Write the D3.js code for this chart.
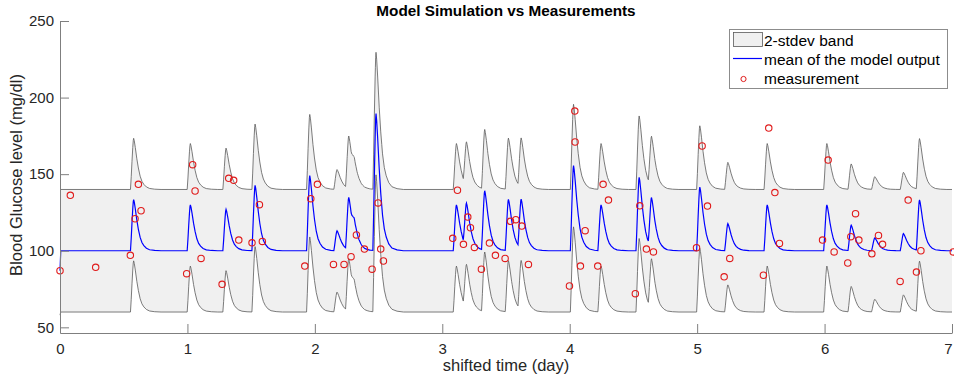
<!DOCTYPE html>
<html>
<head>
<meta charset="utf-8">
<script src="https://cdn.jsdelivr.net/npm/d3@7"></script>
<style>
  body { margin: 0; background: #fff; }
  svg { font-family: "Liberation Sans", Arial, Helvetica, sans-serif; }
</style>
</head>
<body>
<svg id="plot" width="954" height="379"></svg>
<script>
// meal responses of the model mean:
// day of each peak and how far the peak rises above the baseline (mg/dl)
var peakDays = [0.578, 1.023, 1.303, 1.531, 1.960, 2.174, 2.266, 2.310, 2.480,
                3.111, 3.190, 3.333, 3.519, 3.619, 4.030, 4.246, 4.545, 4.642,
                5.021, 5.241, 5.550, 6.018, 6.209, 6.394, 6.619, 6.745];
var peakRise = [33.4, 30, 27, 42.7, 49, 13, 34, 9, 89.5,
                30, 28, 38.8, 33.4, 32, 55.6, 30, 48, 32,
                41.6, 17.7, 30, 30, 16.6, 8.3, 11.2, 33];

// shape of one response: days after onset, fraction of the peak
var spikeShape = [[0, 0], [0.006, 0.25], [0.012, 0.55], [0.018, 0.82], [0.022, 0.96],
                  [0.025, 1], [0.030, 0.95], [0.038, 0.82], [0.050, 0.60], [0.062, 0.42],
                  [0.076, 0.26], [0.090, 0.16], [0.105, 0.10], [0.125, 0.05], [0.150, 0.02],
                  [0.190, 0.006], [0.240, 0]];

var baseline = 100;     // resting level of the model mean
var startValue = 87;    // mean at day 0
var startBand = [58, 140];
var twoStdev = 40;

// measurements
var measDays = [0, 0.081, 0.28, 0.552, 0.589, 0.615, 0.636, 0.994, 1.041, 1.06,
                1.107, 1.272, 1.324, 1.363, 1.403, 1.507, 1.565, 1.588, 1.921, 1.968,
                2.02, 2.146, 2.229, 2.284, 2.326, 2.389, 2.449, 2.496, 2.517, 2.538,
                3.082, 3.119, 3.166, 3.2, 3.221, 3.252, 3.307, 3.37, 3.417, 3.493,
                3.535, 3.577, 3.624, 3.676, 3.998, 4.04, 4.042, 4.084, 4.121, 4.22,
                4.262, 4.304, 4.515, 4.55, 4.602, 4.657, 4.995, 5.039, 5.081, 5.212,
                5.256, 5.52, 5.562, 5.61, 5.646, 5.984, 6.028, 6.075, 6.182, 6.206,
                6.243, 6.269, 6.371, 6.423, 6.455, 6.593, 6.656, 6.721, 6.756, 7.01];
var measGlucose = [87, 136.2, 89.2, 97, 120.9, 143.4, 126.1, 85, 156.2, 139,
                   95, 78.1, 147.3, 146, 107, 105.2, 130.1, 106.1, 90, 134,
                   143.4, 91.1, 91.1, 96.1, 110.3, 101.1, 88, 131.2, 101.1, 93.3,
                   108.1, 139.5, 104.2, 122, 115, 102.2, 88, 105, 97, 95,
                   119.2, 120.3, 116.1, 91.1, 77, 191.2, 171, 90, 113.1, 90,
                   143.4, 133.1, 72, 129.3, 101.1, 99.2, 102, 168.4, 129.2, 83,
                   95, 84, 180.1, 138, 104.8, 107, 159.2, 99.2, 92, 109.2,
                   124.2, 107, 98, 110, 104.2, 80, 133.1, 86.1, 100, 99.2];

var xTicks = [0, 1, 2, 3, 4, 5, 6, 7];
var yTicks = [50, 100, 150, 200, 250];

var svg = d3.select("#plot");

var x = d3.scaleLinear().domain([0, 7]).range([60, 952]),
    y = d3.scaleLinear().domain([46.3, 250]).range([333, 21]);

// build the model mean from the meal responses
var riseTime = spikeShape[5][0];
var shapeAt = d3.scaleLinear()
    .domain(spikeShape.map(function(s) { return s[0]; }))
    .range(spikeShape.map(function(s) { return s[1]; }))
    .clamp(true);

var times = [0, 0.006, 7];
peakDays.forEach(function(p) {
    spikeShape.forEach(function(s) { times.push(p - riseTime + s[0]); });
});
times = Array.from(new Set(times.map(function(t) { return +t.toFixed(4); })))
    .filter(function(t) { return t >= 0 && t <= 7; })
    .sort(d3.ascending);

var model = times.map(function(t, i) {
    var m = baseline;
    peakDays.forEach(function(p, k) { m += peakRise[k] * shapeAt(t - (p - riseTime)); });
    if (i == 0) return {t: t, mean: startValue, lo: startBand[0], hi: startBand[1]};
    return {t: t, mean: m, lo: m - twoStdev, hi: m + twoStdev};
});

// band
svg.append("path")
    .datum(model)
    .attr("fill", "#f0f0f0")
    .attr("d", d3.area()
        .x(function(d) { return x(d.t); })
        .y0(function(d) { return y(d.lo); })
        .y1(function(d) { return y(d.hi); }));

["hi", "lo"].forEach(function(k) {
    svg.append("path")
        .datum(model)
        .attr("fill", "none")
        .attr("stroke", "#5a5a5a")
        .attr("stroke-width", 0.8)
        .attr("d", d3.line()
            .x(function(d) { return x(d.t); })
            .y(function(d) { return y(d[k]); }));
});

// mean
svg.append("path")
    .datum(model)
    .attr("fill", "none")
    .attr("stroke", "#0000ff")
    .attr("stroke-width", 1.2)
    .attr("d", d3.line()
        .x(function(d) { return x(d.t); })
        .y(function(d) { return y(d.mean); }));

// measurements
svg.append("g")
    .selectAll("circle")
    .data(measDays)
    .enter().append("circle")
    .attr("cx", function(d) { return x(d); })
    .attr("cy", function(d, i) { return y(measGlucose[i]); })
    .attr("r", 3.2)
    .attr("fill", "none")
    .attr("stroke", "#e01b1b")
    .attr("stroke-width", 1.1);

// axes, ticks pointing inwards like matlab
var xAxis = svg.append("g")
    .attr("transform", "translate(0," + y.range()[0] + ")")
    .call(d3.axisBottom(x).tickValues(xTicks).tickFormat(d3.format("d"))
        .tickSizeInner(-9).tickSizeOuter(0).tickPadding(10));
var yAxis = svg.append("g")
    .attr("transform", "translate(" + x.range()[0] + ",0)")
    .call(d3.axisLeft(y).tickValues(yTicks).tickFormat(d3.format("d"))
        .tickSizeInner(-9).tickSizeOuter(0).tickPadding(6));

[xAxis, yAxis].forEach(function(a) {
    a.select(".domain").attr("stroke", "#7f7f7f");
    a.selectAll(".tick line").attr("stroke", "#7f7f7f");
    a.selectAll(".tick text")
        .attr("fill", "#262626")
        .style("font-size", "15px")
        .style("font-family", "'Liberation Sans', Arial, sans-serif");
});
// last day label sits on the right edge of the figure, keep it inside
xAxis.selectAll(".tick text").filter(function(d) { return d == 7; })
    .attr("dx", "-4");

svg.append("text")
    .attr("x", 506).attr("y", 371)
    .attr("text-anchor", "middle")
    .style("font-size", "16.5px")
    .attr("fill", "#262626")
    .text("shifted time (day)");

svg.append("text")
    .attr("transform", "translate(22,175) rotate(-90)")
    .attr("text-anchor", "middle")
    .style("font-size", "16.5px")
    .attr("fill", "#262626")
    .text("Blood Glucose level (mg/dl)");

svg.append("text")
    .attr("x", 506).attr("y", 16)
    .attr("text-anchor", "middle")
    .style("font-size", "15.3px")
    .style("font-weight", "bold")
    .attr("fill", "#000")
    .text("Model Simulation vs Measurements");

// legend
var legend = svg.append("g");
legend.append("rect")
    .attr("x", 729.5).attr("y", 29.5)
    .attr("width", 218).attr("height", 59)
    .attr("fill", "#fff")
    .attr("stroke", "#8c8c8c")
    .attr("stroke-width", 1);

var legendLabels = ["2-stdev band", "mean of the model output", "measurement"];
legendLabels.forEach(function(label, i) {
    var base = 46 + i * 19;
    legend.append("text")
        .attr("x", 764).attr("y", base)
        .style("font-size", "15.5px")
        .attr("fill", "#000")
        .text(label);
});
legend.append("rect")
    .attr("x", 733.5).attr("y", 32.5)
    .attr("width", 29).attr("height", 14)
    .attr("fill", "#f0f0f0")
    .attr("stroke", "#5a5a5a")
    .attr("stroke-width", 0.8);
legend.append("line")
    .attr("x1", 733).attr("x2", 762)
    .attr("y1", 58.5).attr("y2", 58.5)
    .attr("stroke", "#0000ff")
    .attr("stroke-width", 1.2);
legend.append("circle")
    .attr("cx", 743.5).attr("cy", 79)
    .attr("r", 2.6)
    .attr("fill", "none")
    .attr("stroke", "#e01b1b")
    .attr("stroke-width", 1);
</script>
</body>
</html>
